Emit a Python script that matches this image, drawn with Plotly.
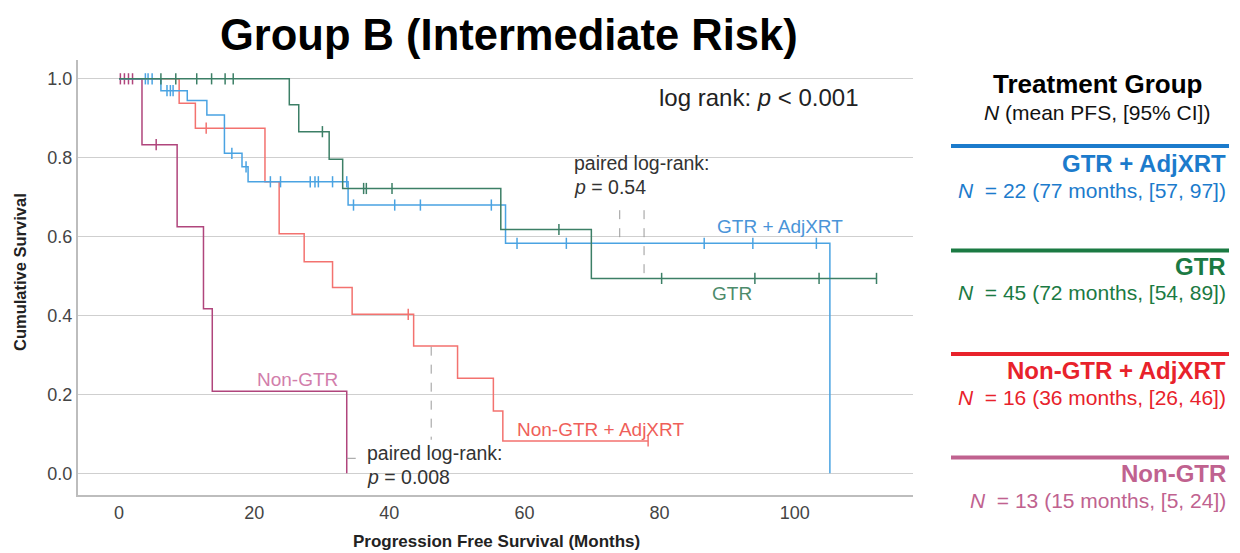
import plotly.graph_objects as go

# ---------------- data ----------------
gtr_adj_t = [0, 6.2, 10.1, 13.0, 15.6, 18.2, 19.1, 33.9, 57.2, 105.2]
gtr_adj_s = [1.0, 0.970, 0.945, 0.908, 0.811, 0.777, 0.739, 0.680, 0.583, 0.0]
gtr_adj_cens = [3.9, 4.3, 4.9, 7.1, 7.6, 8.0, 16.7, 18.8, 22.4, 23.9, 28.3, 29.0, 29.5,
                31.6, 33.7, 34.7, 40.8, 44.6, 55.1, 58.9, 66.2, 86.6, 93.8, 103.2]

gtr_t = [0, 25.2, 26.6, 31.1, 33.1, 56.5, 69.9, 112.1]
gtr_s = [1.0, 0.934, 0.866, 0.796, 0.722, 0.618, 0.494, 0.494]
gtr_cens = [6.2, 8.4, 11.5, 13.7, 15.7, 16.9, 30.1, 36.2, 36.6, 40.4, 65.1,
            80.3, 94.1, 103.6, 112.1]

ngtr_adj_t = [0, 8.9, 11.3, 21.6, 23.7, 27.4, 31.6, 34.5, 43.6, 50.1, 55.4, 56.8, 78.3]
ngtr_adj_s = [1.0, 0.938, 0.875, 0.739, 0.607, 0.536, 0.471, 0.403, 0.323, 0.241, 0.158,
              0.082, 0.082]
ngtr_adj_cens = [12.9, 42.8, 78.3]

ngtr_t = [0, 3.4, 8.6, 12.5, 13.8, 33.7]
ngtr_s = [1.0, 0.833, 0.625, 0.417, 0.208, 0.0]
ngtr_cens = [0.2, 0.8, 1.4, 2.0, 5.5]

x_ticks = [0, 20, 40, 60, 80, 100]
y_ticks = [0.0, 0.2, 0.4, 0.6, 0.8, 1.0]

legend_names = ["GTR + AdjXRT", "GTR", "Non-GTR + AdjXRT", "Non-GTR"]
legend_stats = ["= 22 (77 months, [57, 97])", "= 45 (72 months, [54, 89])",
                "= 16 (36 months, [26, 46])", "= 13 (15 months, [5, 24])"]

# ---------------- styles ----------------
curve_cols = ["#4aa3e2", "#3c7f66", "#f3726f", "#b0457c"]
label_cols = ["#4a94d8", "#4d8b6b", "#ef5f5a", "#d27eab"]
legend_cols = ["#1c7bcc", "#1b7a43", "#e8222b", "#c0628f"]
FONT = "Liberation Sans, Arial, Helvetica, sans-serif"

L, R, T, B = 78, 913, 60, 495
def px(x):
    return (x - L) / (R - L)
def py(y):
    return (B - y) / (B - T)

def step_at(ts, ss, t):
    val = ss[0]
    for ti, si in zip(ts, ss):
        if ti <= t:
            val = si
    return val

fig = go.Figure()
groups = [
    (gtr_adj_t, gtr_adj_s, gtr_adj_cens),
    (gtr_t, gtr_s, gtr_cens),
    (ngtr_adj_t, ngtr_adj_s, ngtr_adj_cens),
    (ngtr_t, ngtr_s, ngtr_cens),
]
order = [2, 3, 0, 1]
for i in order:
    ts, ss, cs = groups[i]
    fig.add_trace(go.Scatter(x=ts, y=ss, mode="lines", line=dict(color=curve_cols[i], width=1.5, shape="hv"),
                             showlegend=False, hoverinfo="skip"))
    fig.add_trace(go.Scatter(x=cs, y=[step_at(ts, ss, c) for c in cs], mode="markers",
                             marker=dict(symbol="line-ns", size=8, line=dict(color=curve_cols[i], width=1.5)),
                             showlegend=False, hoverinfo="skip"))

shapes = []
dash = dict(color="#9a9a9a", width=1, dash="dash")
for (x0, y0, x1, y1) in [(74.1, 0.667, 74.1, 0.583), (77.7, 0.667, 77.7, 0.494),
                         (46.2, 0.321, 46.2, 0.085), (33.7, 0.038, 36.0, 0.038)]:
    shapes.append(dict(type="line", xref="x", yref="y", x0=x0, y0=y0, x1=x1, y1=y1, line=dash))

leg_line_y = [146, 250.5, 354, 457.5]
for i, yy in enumerate(leg_line_y):
    shapes.append(dict(type="line", xref="paper", yref="paper", x0=px(951), x1=px(1229),
                       y0=py(yy), y1=py(yy), line=dict(color=legend_cols[i], width=4)))

ann = []
def add_text(text, x, y, size, color="#111", xanchor="left", **kw):
    ann.append(dict(text=text, x=px(x), y=py(y), xref="paper", yref="paper", showarrow=False,
                    xanchor=xanchor, yanchor="middle", font=dict(size=size, color=color, family=FONT), **kw))

add_text("<b>Group B (Intermediate Risk)</b>", 509, 35, 43.5, "#000", xanchor="center")
add_text("log rank: <i>p</i> < 0.001", 861, 97, 24, "#222", xanchor="right")
add_text("paired log-rank:", 572, 163, 19.5, "#333")
add_text("<i>p</i> = 0.54", 572, 187, 19.5, "#333")
add_text("paired log-rank:", 365, 453, 19.5, "#333")
add_text("<i>p</i> = 0.008", 365, 477, 19.5, "#333")
add_text("GTR + AdjXRT", 715, 226, 19, label_cols[0])
add_text("GTR", 710, 293, 19, label_cols[1])
add_text("Non-GTR + AdjXRT", 515, 429, 19, label_cols[2])
add_text("Non-GTR", 255, 379, 19, label_cols[3])

add_text("<b>Treatment Group</b>", 1097, 84, 26, "#000", xanchor="center")
add_text("<i>N</i> (mean PFS, [95% CI])", 1097, 112, 21, "#111", xanchor="center")
name_y = [163, 266, 370, 473]
stat_y = [190, 292.5, 397, 500.5]
for i in range(4):
    add_text("<b>" + legend_names[i] + "</b>", 1228, name_y[i], 24, legend_cols[i], xanchor="right")
    add_text("<i>N</i>  " + legend_stats[i], 1228, stat_y[i], 21, legend_cols[i], xanchor="right")

add_text("<b>Cumulative Survival</b>", 20, 272, 16.5, "#222", xanchor="center", textangle=-90)
add_text("<b>Progression Free Survival (Months)</b>", 496, 541, 17, "#222", xanchor="center")

fig.update_layout(
    width=1240, height=553,
    margin=dict(l=L, r=1240 - R, t=T, b=553 - B),
    paper_bgcolor="white", plot_bgcolor="white",
    shapes=shapes, annotations=ann,
    xaxis=dict(range=[-6.07, 117.5], tickvals=x_ticks, ticktext=[str(v) for v in x_ticks],
               showgrid=False, zeroline=False, showline=True, linecolor="#bdbdbd", linewidth=2,
               ticks="", tickfont=dict(size=18, color="#444", family=FONT)),
    yaxis=dict(range=[-0.055, 1.0477], tickvals=y_ticks, ticktext=["%.1f" % v for v in y_ticks],
               showgrid=True, gridcolor="#cfcfcf", gridwidth=1, zeroline=False,
               showline=True, linecolor="#bdbdbd", linewidth=2, ticks="",
               tickfont=dict(size=18, color="#444", family=FONT)),
)

fig.write_html("out.html", config={"displayModeBar": False},
               post_script="document.body.style.margin='0px';")
